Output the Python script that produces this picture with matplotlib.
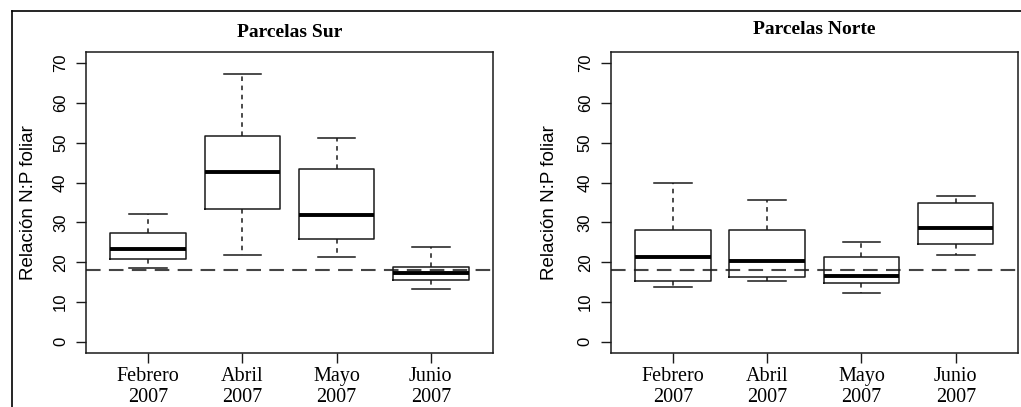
import matplotlib.pyplot as plt
from matplotlib.lines import Line2D

# --- Data (box stats per month) ---
meses = ["Febrero\n2007", "Abril\n2007", "Mayo\n2007", "Junio\n2007"]

sur_min = [18.5, 21.8, 21.2, 13.4]
sur_q1 = [20.8, 33.4, 25.9, 15.6]
sur_med = [23.3, 42.6, 31.9, 17.2]
sur_q3 = [27.3, 51.7, 43.4, 18.9]
sur_max = [32.0, 67.3, 51.1, 23.9]

norte_min = [13.7, 15.3, 12.3, 21.7]
norte_q1 = [15.2, 16.2, 14.9, 24.5]
norte_med = [21.2, 20.2, 16.5, 28.6]
norte_q3 = [28.1, 28.1, 21.4, 34.8]
norte_max = [39.9, 35.7, 25.0, 36.7]

umbral = 18
yticks = [0, 10, 20, 30, 40, 50, 60, 70]

SERIF = "Liberation Serif"
SANS = "Liberation Sans"
INK = "#1a1a1a"


def make_stats(lo, q1, med, q3, hi):
    return [
        {"whislo": a, "q1": b, "med": c, "q3": d, "whishi": e, "fliers": []}
        for a, b, c, d, e in zip(lo, q1, med, q3, hi)
    ]


def draw_panel(ax, stats, title, ylab_x, title_pad):
    ax.bxp(
        stats,
        positions=range(1, len(stats) + 1),
        widths=0.8,
        showfliers=False,
        boxprops=dict(color=INK, linewidth=1.1),
        medianprops=dict(color="black", linewidth=2.8, solid_capstyle="butt"),
        whiskerprops=dict(color=INK, linewidth=1.1, linestyle=(0, (3, 3))),
        capprops=dict(color=INK, linewidth=1.1),
        capwidths=0.4,
    )
    ax.axhline(umbral, color="#444444", linewidth=1.5, linestyle=(0, (7, 4)), zorder=0)

    ax.set_xlim(0.34, 4.66)
    ax.set_ylim(-2.8, 72.8)
    ax.set_yticks(yticks)
    ax.set_yticklabels([str(t) for t in yticks], family=SANS, fontsize=12,
                       rotation=90, va="center")
    ax.set_xticks(range(1, len(meses) + 1))
    ax.set_xticklabels(meses, family=SERIF, fontsize=14.5, linespacing=1.15)
    ax.tick_params(axis="both", direction="out", length=7, width=1.0, color=INK)
    ax.tick_params(axis="x", pad=3)
    ax.tick_params(axis="y", pad=6)

    ax.set_ylabel("Relación N:P foliar", family=SANS, fontsize=13.5)
    ax.yaxis.set_label_coords(ylab_x, 0.5)
    ax.set_title(title, family=SERIF, fontsize=14, fontweight="bold", pad=title_pad)

    for sp in ax.spines.values():
        sp.set_color(INK)
        sp.set_linewidth(1.1)


W, H = 1021, 407
fig = plt.figure(figsize=(W / 100, H / 100), dpi=100)

ax1 = fig.add_axes([86 / W, 1 - 353 / H, 407 / W, 301 / H])
ax2 = fig.add_axes([610.7 / W, 1 - 353 / H, 407.3 / W, 301 / H])

draw_panel(ax1, make_stats(sur_min, sur_q1, sur_med, sur_q3, sur_max),
           "Parcelas Sur", -0.12, 11)
draw_panel(ax2, make_stats(norte_min, norte_q1, norte_med, norte_q3, norte_max),
           "Parcelas Norte", -0.13, 13)

# outer frame lines (top and left only)
fig.add_artist(Line2D([11.5 / W, 1.0], [1 - 11 / H, 1 - 11 / H],
                      transform=fig.transFigure, color="black", linewidth=1.2))
fig.add_artist(Line2D([11.5 / W, 11.5 / W], [0.0, 1 - 11 / H],
                      transform=fig.transFigure, color="black", linewidth=1.2))

fig.savefig("out.png", dpi=100)
